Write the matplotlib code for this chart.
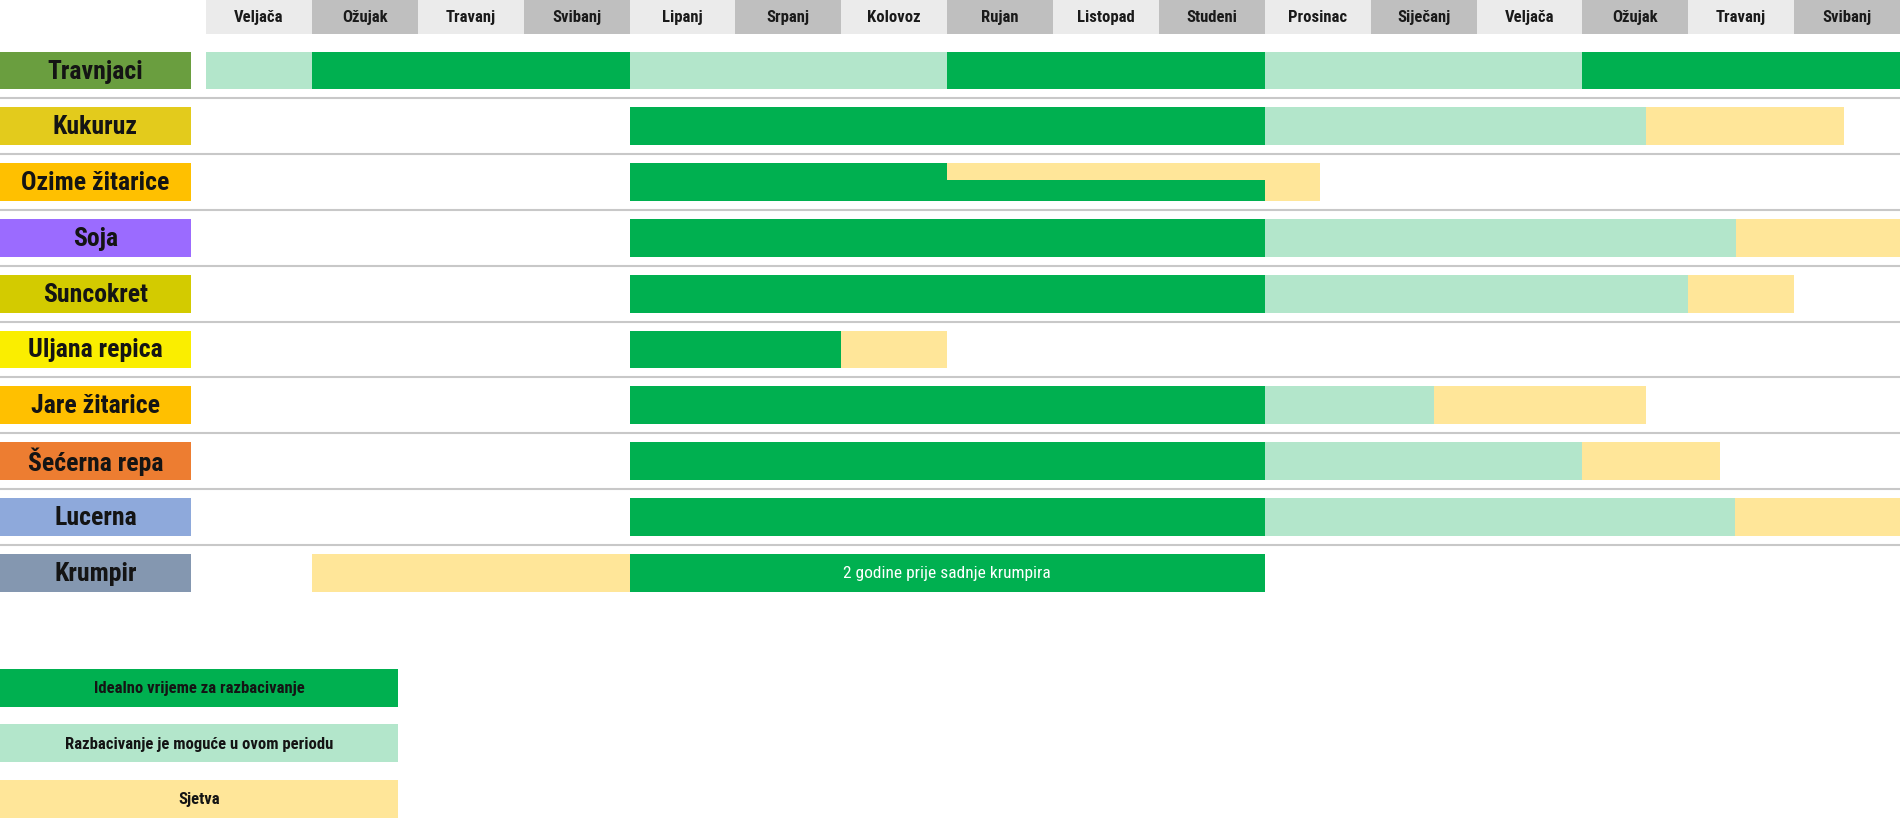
"""
Kalendar razbacivanja stajskog gnojiva po kulturama.
"""
import matplotlib
matplotlib.use("Agg")
import matplotlib.pyplot as plt
from matplotlib import font_manager

# uski font ako postoji, inace Roboto
names = {f.name for f in font_manager.fontManager.ttflist}
narrow = [n for n in ['Liberation Sans Narrow', 'DejaVu Sans Condensed', 'Roboto Condensed']
          if n in names]
plt.rcParams['font.family'] = narrow + ['Roboto', 'DejaVu Sans']

# podaci
months = ['Veljača', 'Ožujak', 'Travanj', 'Svibanj', 'Lipanj', 'Srpanj',
          'Kolovoz', 'Rujan', 'Listopad', 'Studeni', 'Prosinac', 'Siječanj',
          'Veljača', 'Ožujak', 'Travanj', 'Svibanj']

crops = ['Travnjaci', 'Kukuruz', 'Ozime žitarice', 'Soja', 'Suncokret',
         'Uljana repica', 'Jare žitarice', 'Šećerna repa', 'Lucerna', 'Krumpir']
crop_colors = ['#6A9E3F', '#E3CB1C', '#FFC000', '#9B6BFF', '#D3CB00',
               '#FAEE00', '#FFC000', '#ED7D31', '#8EA9DB', '#8497B0']

# (pocetak, kraj, vrsta) u mjesecima od pocetka veljace
travnjaci = [(0, 1, 'moguce'), (1, 4, 'idealno'), (4, 7, 'moguce'),
             (7, 10, 'idealno'), (10, 13, 'moguce'), (13, 16, 'idealno')]
kukuruz = [(4, 10, 'idealno'), (10, 13.6, 'moguce'), (13.6, 15.47, 'sjetva')]
ozime = [(4, 10, 'idealno'), (10, 10.52, 'sjetva')]
ozime_preklop = (7, 10, 'sjetva')   # sjetva preko gornjeg dijela zelene trake
soja = [(4, 10, 'idealno'), (10, 14.45, 'moguce'), (14.45, 16, 'sjetva')]
suncokret = [(4, 10, 'idealno'), (10, 14, 'moguce'), (14, 15, 'sjetva')]
uljana = [(4, 6, 'idealno'), (6, 7, 'sjetva')]
jare = [(4, 10, 'idealno'), (10, 11.6, 'moguce'), (11.6, 13.6, 'sjetva')]
secerna = [(4, 10, 'idealno'), (10, 13, 'moguce'), (13, 14.3, 'sjetva')]
lucerna = [(4, 10, 'idealno'), (10, 14.44, 'moguce'), (14.44, 16, 'sjetva')]
krumpir = [(1, 4, 'sjetva'), (4, 10, 'idealno')]
segments = [travnjaci, kukuruz, ozime, soja, suncokret, uljana, jare,
            secerna, lucerna, krumpir]

krumpir_note = '2 godine prije sadnje krumpira'

legend_kinds = ['idealno', 'moguce', 'sjetva']
legend_labels = ['Idealno vrijeme za razbacivanje',
                 'Razbacivanje je moguće u ovom periodu',
                 'Sjetva']

kind_colors = {'idealno': '#00B050', 'moguce': '#B3E6CB', 'sjetva': '#FFE699'}
header_colors = ['#EBEBEB', '#BFBFBF']

# crtanje
fig = plt.figure(figsize=(19, 8.2), dpi=100)
ax = fig.add_axes([0, 0, 1, 1])
x_left = -206 / 105.875
ax.set_xlim(x_left, 16)
ax.set_ylim((820 - 71.5) / 55.8, -71.5 / 55.8)
ax.axis('off')

bar_h = 0.68
head_top = -71.5 / 55.8
head_h = 35 / 55.8

# zaglavlje s mjesecima
for i, m in enumerate(months):
    ax.bar(i, head_h, width=1, bottom=head_top, align='edge',
           color=header_colors[i % 2], linewidth=0)
    ax.text(i + 0.5, head_top + head_h / 2, m, ha='center', va='center',
            fontsize=12, fontweight='bold', color='#1a1a1a')

# razdjelnice
for r in range(len(crops) - 1):
    ax.axhline(r + 0.5, color='#C8C8C8', linewidth=1.5)

# oznake kultura
label_w = -0.142 - x_left
for r, (name, col) in enumerate(zip(crops, crop_colors)):
    ax.barh(r, label_w, left=x_left, height=bar_h, color=col, linewidth=0)
    ax.text(x_left + label_w / 2, r, name, ha='center', va='center',
            fontsize=18.5, fontweight='bold', color='#141414')

# trake
for r, segs in enumerate(segments):
    for start, end, kind in segs:
        ax.barh(r, end - start, left=start, height=bar_h,
                color=kind_colors[kind], linewidth=0)

r_oz = crops.index('Ozime žitarice')
s, e, k = ozime_preklop
strip = bar_h * 0.45
ax.barh(r_oz - bar_h / 2 + strip / 2, e - s, left=s, height=strip,
        color=kind_colors[k], linewidth=0)

r_kr = crops.index('Krumpir')
ax.text(7, r_kr, krumpir_note, ha='center', va='center',
        fontsize=12.5, color='white')

# legenda
leg_w = 1.813 - x_left
for j, (kind, lab) in enumerate(zip(legend_kinds, legend_labels)):
    y = 11.06 + j * 0.995
    ax.barh(y, leg_w, left=x_left, height=bar_h,
            color=kind_colors[kind], linewidth=0)
    ax.text(x_left + leg_w / 2, y, lab, ha='center', va='center',
            fontsize=12, fontweight='bold', color='#141414')

fig.savefig('out.png', dpi=100)
